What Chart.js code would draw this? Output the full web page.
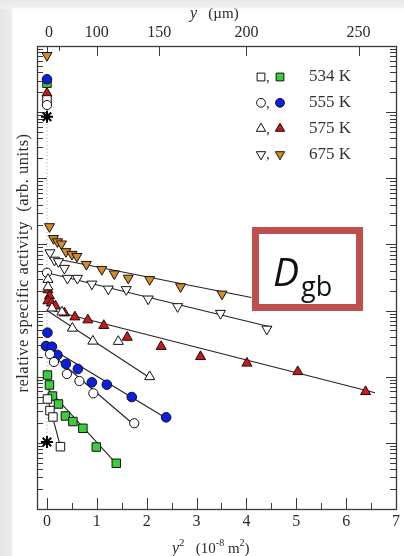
<!DOCTYPE html>
<html>
<head>
<meta charset="utf-8">
<script src="https://cdn.jsdelivr.net/npm/chart.js@4/dist/chart.umd.min.js"></script>
<style>
  html, body { margin: 0; padding: 0; background: #fff; }
  canvas { display: block; }
</style>
</head>
<body>
<canvas id="c" width="404" height="556"></canvas>
<script>
// Penetration profiles: relative specific activity vs. y^2 (10^-8 m^2)
const seriesLabels = ['534 K', '555 K', '575 K', '675 K'];

// 534 K
const x534open = [0, 0.01, 0.06, 0.12, 0.27];
const a534open = [1530000, 46, 30.8, 24.6, 8.75];
const x534fill = [0, 0.01, 0.05, 0.11, 0.23, 0.37, 0.52, 0.72, 0.99, 1.39];
const a534fill = [2740000, 106, 75, 51, 38.7, 25.5, 21.0, 16.6, 8.65, 4.91];

// 555 K
const x555open = [0, 0.0, 0.06, 0.14, 0.40, 0.65, 0.93, 1.75];
const a555open = [1280000, 3740, 220, 167, 110, 86.1, 56.1, 19.8];
const x555fill = [0, 0.01, -0.02, 0.10, 0.21, 0.38, 0.62, 0.90, 1.20, 1.70, 2.39];
const a555fill = [3140000, 463, 291, 284, 213, 156, 131, 82.2, 75.7, 49.3, 24.3];

// 575 K
const x575open = [0.02, 0.02, 0.10, 0.30, 0.51, 0.92, 1.43, 2.06];
const a575open = [2950, 2280, 1090, 950, 540, 344, 341, 100];
const x575fill = [0, 0.02, 0.05, 0.02, 0.09, 0.17, 0.35, 0.56, 0.82, 1.14, 1.61, 2.29, 3.08, 4.01, 5.03, 6.39];
const a575fill = [1930000, 2050, 1660, 1400, 1300, 1170, 918, 800, 721, 594, 394, 286, 201, 160, 119, 59.4];

// 675 K
const x675open = [0.06, 0.15, 0.23, 0.35, 0.41, 0.61, 0.90, 1.23, 1.59, 2.03, 2.62, 3.48, 4.41];
const a675open = [7500, 5800, 5500, 4360, 3080, 3080, 2520, 2120, 2080, 1500, 1150, 910, 526];
const x675fill = [0, 0.05, 0.13, 0.21, 0.29, 0.38, 0.50, 0.60, 0.79, 1.10, 1.35, 1.63, 2.06, 2.68, 3.51];
const a675fill = [7200000, 18600, 12300, 11000, 10200, 7800, 7100, 6600, 5000, 4200, 3600, 3100, 2950, 2300, 1780];

// Reference level markers (asterisks) and the dotted guide between them
const xStar = [0, 0];
const aStar = [851000, 10.3];

// Straight-line fits (end points)
const fit534openX = [0.03, 0.28], fit534openA = [41.9, 8.28];
const fit534fillX = [0.0, 1.43],  fit534fillA = [67.6, 4.47];
const fit555openX = [0.0, 1.79],  fit555openA = [251, 17.5];
const fit555fillX = [0.0, 2.45],  fit555fillA = [291, 22.2];
const fit575openX = [0.0, 2.10],  fit575openA = [1000, 92.5];
const fit575fillX = [0.01, 6.58], fit575fillA = [1045, 57.3];
const fit675openX = [0.0, 4.51],  fit675openA = [3740, 558];
const fit675fillX = [0.1, 4.10],  fit675fillA = [6240, 1580];

// Axis ticks
const y2Ticks = [0, 1, 2, 3, 4, 5, 6, 7];
const micronLabels = [0, 100, 150, 200, 250];
const micronMinor = [50];

const ORANGE = '#d68a2c', RED = '#d01515', BLUE = '#0b1fe0', GREEN = '#3ccc3c';

function pts(xs, as) { return xs.map((x, i) => ({ x: x, y: as[i] })); }

function markerSet(xs, as, style, fill, radius, rotation) {
  return {
    data: pts(xs, as), showLine: false, order: 0,
    pointStyle: style, pointRadius: radius, pointHoverRadius: radius,
    pointRotation: rotation || 0,
    pointBackgroundColor: fill, pointBorderColor: '#111', pointBorderWidth: 1
  };
}
function fitSet(xs, as) {
  return {
    data: pts(xs, as), showLine: true, order: 1, pointRadius: 0,
    borderColor: '#222', borderWidth: 1.1, fill: false
  };
}

const datasets = [
  fitSet(fit534openX, fit534openA), fitSet(fit534fillX, fit534fillA),
  fitSet(fit555openX, fit555openA), fitSet(fit555fillX, fit555fillA),
  fitSet(fit575openX, fit575openA), fitSet(fit575fillX, fit575fillA),
  fitSet(fit675openX, fit675openA), fitSet(fit675fillX, fit675fillA),
  {
    data: pts(xStar, aStar), showLine: true, order: 2, pointRadius: 0,
    borderColor: '#9a9a9a', borderWidth: 1, borderDash: [1, 2.5], fill: false
  },
  markerSet(x675open, a675open, 'triangle', '#fff', 5.8, 180),
  markerSet(x575open, a575open, 'triangle', '#fff', 5.8, 0),
  markerSet(x555open, a555open, 'circle', '#fff', 4.6, 0),
  markerSet(x534open, a534open, 'rect', '#fff', 6, 0),
  markerSet(x675fill, a675fill, 'triangle', ORANGE, 5.8, 180),
  markerSet(x575fill, a575fill, 'triangle', RED, 5.8, 0),
  markerSet(x555fill, a555fill, 'circle', BLUE, 4.8, 0),
  markerSet(x534fill, a534fill, 'rect', GREEN, 6, 0),
  {
    data: pts(xStar, aStar), showLine: false, order: 0,
    pointStyle: 'star', pointRadius: 6, pointBorderColor: '#000', pointBorderWidth: 2,
    pointBackgroundColor: '#000'
  }
];

const SERIF = '"Liberation Serif", "DejaVu Serif", serif';

function drawRun(ctx, x, y, parts) {
  ctx.textAlign = 'left';
  ctx.textBaseline = 'alphabetic';
  for (const p of parts) {
    ctx.font = p.font;
    ctx.fillText(p.t, x, y + (p.dy || 0));
    x += ctx.measureText(p.t).width;
  }
}

function marker(ctx, style, fill, x, y, r, rot) {
  ctx.save();
  ctx.fillStyle = fill;
  ctx.strokeStyle = '#111';
  ctx.lineWidth = 1;
  Chart.helpers.drawPoint(ctx, { pointStyle: style, radius: r, rotation: rot || 0, borderWidth: 1 }, x, y);
  ctx.restore();
}

// page backdrop: white sheet with a soft grey margin on the top and left
const backdropPlugin = {
  id: 'backdrop',
  beforeDraw(chart) {
    const { ctx, width, height } = chart;
    ctx.save();
    ctx.fillStyle = '#fff';
    ctx.fillRect(0, 0, width, height);
    let g = ctx.createLinearGradient(0, 0, 15, 0);
    g.addColorStop(0, '#e4e4e4');
    g.addColorStop(0.7, '#ececec');
    g.addColorStop(1, 'rgba(255,255,255,0)');
    ctx.fillStyle = g;
    ctx.fillRect(0, 0, 15, height);
    g = ctx.createLinearGradient(0, 0, 0, 10);
    g.addColorStop(0, '#e8e8e8');
    g.addColorStop(0.7, '#eeeeee');
    g.addColorStop(1, 'rgba(255,255,255,0)');
    ctx.fillStyle = g;
    ctx.fillRect(0, 0, width, 10);
    ctx.restore();
  }
};

const axesPlugin = {
  id: 'frameAxes',
  beforeDatasetsDraw(chart) {
    const { ctx, chartArea: a, scales } = chart;
    const xs = scales.x, ys = scales.y;
    ctx.save();
    ctx.strokeStyle = '#3a3a3a';
    ctx.lineWidth = 1;
    ctx.beginPath();
    // bottom ticks: integers and halves
    for (let v = 0; v <= 7; v += 0.5) {
      const px = Math.round(xs.getPixelForValue(v)) + 0.5;
      const len = Number.isInteger(v) ? 11 : 6;
      ctx.moveTo(px, a.bottom); ctx.lineTo(px, a.bottom - len);
    }
    // top ticks placed at y^2 of the micrometre values
    for (const m of micronLabels.concat(micronMinor)) {
      const px = Math.round(xs.getPixelForValue(m * m / 10000)) + 0.5;
      const len = micronMinor.includes(m) ? 5 : 10;
      ctx.moveTo(px, a.top); ctx.lineTo(px, a.top + len);
    }
    // logarithmic ticks on both sides
    for (let d = 0; d < 7; d++) {
      for (let k = 1; k <= 9; k++) {
        const v = k * Math.pow(10, d);
        const py = Math.round(ys.getPixelForValue(v)) + 0.5;
        const len = k === 1 ? 10 : 6;
        ctx.moveTo(a.left, py); ctx.lineTo(a.left + len, py);
        ctx.moveTo(a.right, py); ctx.lineTo(a.right - len, py);
      }
    }
    ctx.stroke();
    ctx.lineWidth = 1.3;
    ctx.strokeRect(Math.round(a.left) + 0.5, Math.round(a.top) + 0.5,
                   Math.round(a.right - a.left), Math.round(a.bottom - a.top));

    // tick labels
    ctx.fillStyle = '#2a2a2a';
    ctx.font = '16px ' + SERIF;
    ctx.textAlign = 'center';
    ctx.textBaseline = 'middle';
    for (const v of y2Ticks) ctx.fillText(String(v), xs.getPixelForValue(v), a.bottom + 13);
    for (const m of micronLabels) ctx.fillText(String(m), xs.getPixelForValue(m * m / 10000) + (m === 0 ? 2 : 0), a.top - 13);

    // axis titles
    drawRun(ctx, 190, 18, [
      { t: 'y', font: 'italic 16px ' + SERIF },
      { t: '   (\u00b5m)', font: '15px ' + SERIF }
    ]);
    drawRun(ctx, 172, 553, [
      { t: 'y', font: 'italic 16px ' + SERIF },
      { t: '2', font: '11px ' + SERIF, dy: -7 },
      { t: '   (10', font: '15px ' + SERIF },
      { t: '-8', font: '10px ' + SERIF, dy: -7 },
      { t: ' m', font: '15px ' + SERIF },
      { t: '2', font: '10px ' + SERIF, dy: -7 },
      { t: ')', font: '15px ' + SERIF }
    ]);
    ctx.save();
    ctx.translate(24, 263);
    ctx.rotate(-Math.PI / 2);
    ctx.font = '16.5px ' + SERIF;
    ctx.letterSpacing = '0.5px';
    ctx.textAlign = 'center';
    ctx.textBaseline = 'middle';
    ctx.fillText('relative specific activity  (arb. units)', 0, 0);
    ctx.restore();
    ctx.restore();
  },
  afterDatasetsDraw(chart) {
    const { ctx } = chart;
    ctx.save();
    // legend
    const rows = [
      ['rect', '#fff', GREEN, 5.5, 0],
      ['circle', '#fff', BLUE, 4.4, 0],
      ['triangle', '#fff', RED, 5.4, 0],
      ['triangle', '#fff', ORANGE, 5.4, 180]
    ];
    rows.forEach((r, i) => {
      const y = 77 + i * 25.8;
      marker(ctx, r[0], r[1], 261, y, r[3], r[4]);
      marker(ctx, r[0], r[2], 280, y, r[3], r[4]);
      ctx.fillStyle = '#333';
      ctx.font = '15px ' + SERIF;
      ctx.textAlign = 'left';
      ctx.textBaseline = 'alphabetic';
      ctx.fillText(',', 266, y + 5);
      ctx.font = '17px ' + SERIF;
      ctx.textBaseline = 'middle';
      ctx.fillText(seriesLabels[i], 309, y);
    });

    // boxed D_gb annotation
    ctx.fillStyle = '#fff';
    ctx.fillRect(252, 227, 111, 84);
    ctx.strokeStyle = '#c0504d';
    ctx.lineWidth = 7;
    ctx.strokeRect(255.5, 230.5, 104, 77);
    ctx.fillStyle = '#111';
    drawRun(ctx, 273, 286, [
      { t: 'D', font: 'italic 39px "Open Sans", "Liberation Sans", sans-serif' }
    ]);
    drawRun(ctx, 301, 296, [
      { t: 'gb', font: '27px "Open Sans", "Liberation Sans", sans-serif' }
    ]);
    ctx.restore();
  }
};

new Chart(document.getElementById('c'), {
  type: 'scatter',
  data: { datasets: datasets },
  options: {
    responsive: false,
    animation: false,
    devicePixelRatio: 1,
    layout: { padding: { left: 37, right: 7, top: 46, bottom: 47 } },
    plugins: { legend: { display: false }, tooltip: { enabled: false } },
    scales: {
      x: { type: 'linear', min: -0.2, max: 7, display: false },
      y: { type: 'logarithmic', min: 1, max: 1e7, display: false }
    }
  },
  plugins: [backdropPlugin, axesPlugin]
});
</script>
</body>
</html>
